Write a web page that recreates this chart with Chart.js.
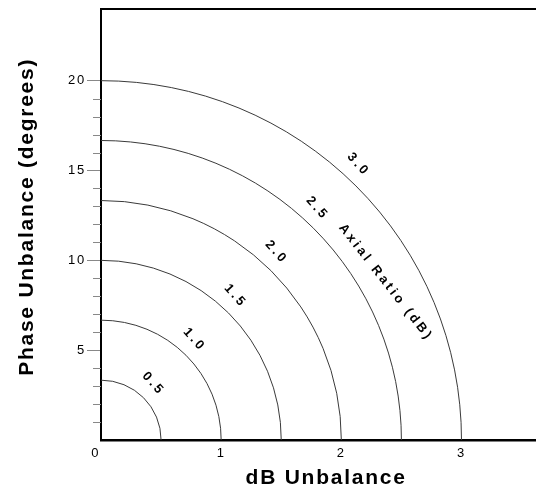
<!DOCTYPE html>
<html>
<head>
<meta charset="utf-8">
<script src="https://cdn.jsdelivr.net/npm/chart.js@4.4.0/dist/chart.umd.min.js"></script>
<style>
    html, body { margin: 0; padding: 0; background: #fff; }
    #wrap { width: 536px; height: 491px; }
</style>
</head>
<body>
<div id="wrap"><canvas id="arChart"></canvas></div>
<script>
// Axial ratio contours (dB) and where each one meets the two axes
const arLevels = [0.5, 1.0, 1.5, 2.0, 2.5, 3.0];
const arLabels = ['0.5', '1.0', '1.5', '2.0', '2.5', '3.0'];
const dbIntercepts = [0.5, 1, 1.5, 2, 2.5, 3];
const phaseIntercepts = [3.33, 6.67, 10, 13.33, 16.67, 20];

// Tick labels
const xTickValues = [0, 1, 2, 3];
const yMajorTicks = [5, 10, 15, 20];
const yMinorMax = 20;

const FONT = "'Liberation Sans', Arial, sans-serif";

// Where the contour labels sit (angle from the dB axis, degrees)
const labelStyle = { angle: 47, offset: 17, rotation: 48 };
const axialLabel = { text: 'Axial Ratio (dB)', inner: 4, outer: 5, frac: 0.42, angle: 29, rotation: 52 };

const contourPlugin = {
    id: 'contours',
    beforeDraw(chart) {
        chart.ctx.letterSpacing = '1.75px';
    },
    afterDatasetsDraw(chart) {
        const { ctx, chartArea } = chart;
        const x = chart.scales.x;
        const y = chart.scales.y;
        const cx = x.getPixelForValue(0);
        const cy = y.getPixelForValue(0);
        const rxOf = i => x.getPixelForValue(dbIntercepts[i]) - cx;
        const ryOf = i => cy - y.getPixelForValue(phaseIntercepts[i]);

        ctx.save();
        ctx.beginPath();
        ctx.rect(chartArea.left, chartArea.top, chartArea.width, chartArea.height);
        ctx.clip();

        // quarter ellipses
        ctx.strokeStyle = '#3a3a3a';
        ctx.lineWidth = 1;
        arLevels.forEach((lv, i) => {
            ctx.beginPath();
            ctx.ellipse(cx, cy, rxOf(i), ryOf(i), 0, -Math.PI / 2, 0);
            ctx.stroke();
        });

        // y minor ticks
        ctx.restore();
        ctx.save();
        ctx.strokeStyle = '#888';
        ctx.lineWidth = 1;
        y.ticks.forEach(t => {
            if (t.value === 0 || t.value > yMinorMax || yMajorTicks.includes(t.value)) return;
            const py = Math.round(y.getPixelForValue(t.value)) + 0.5;
            ctx.beginPath();
            ctx.moveTo(chartArea.left - 8, py);
            ctx.lineTo(chartArea.left, py);
            ctx.stroke();
        });

        // contour labels
        ctx.fillStyle = '#000';
        ctx.textAlign = 'center';
        ctx.textBaseline = 'middle';
        ctx.letterSpacing = '3px';
        ctx.font = 'bold 13px ' + FONT;
        const a = labelStyle.angle * Math.PI / 180;
        arLabels.forEach((txt, i) => {
            const px = cx + (rxOf(i) + labelStyle.offset) * Math.cos(a);
            const py = cy - (ryOf(i) + labelStyle.offset) * Math.sin(a);
            ctx.save();
            ctx.translate(px, py);
            ctx.rotate(labelStyle.rotation * Math.PI / 180);
            ctx.fillText(txt, 0, 0);
            ctx.restore();
        });

        const b = axialLabel.angle * Math.PI / 180;
        const rx = rxOf(axialLabel.inner) + axialLabel.frac * (rxOf(axialLabel.outer) - rxOf(axialLabel.inner));
        const ry = ryOf(axialLabel.inner) + axialLabel.frac * (ryOf(axialLabel.outer) - ryOf(axialLabel.inner));
        ctx.font = 'bold 13px ' + FONT;
        ctx.translate(cx + rx * Math.cos(b), cy - ry * Math.sin(b));
        ctx.rotate(axialLabel.rotation * Math.PI / 180);
        ctx.fillText(axialLabel.text, 0, 0);
        ctx.restore();
    }
};

new Chart(document.getElementById('arChart'), {
    type: 'scatter',
    data: { datasets: [] },
    options: {
        responsive: true,
        maintainAspectRatio: false,
        animation: false,
        layout: { padding: 0 },
        plugins: {
            legend: { display: false },
            tooltip: { enabled: false }
        },
        scales: {
            x: {
                type: 'linear',
                min: 0,
                max: 3.62,
                afterBuildTicks: s => { s.ticks = xTickValues.map(v => ({ value: v })); },
                afterFit: s => { s.height = 51; },
                grid: { display: false, drawTicks: false },
                border: { display: true, color: '#000', width: 2.5 },
                ticks: {
                    color: '#000',
                    padding: 6,
                    autoSkip: false,
                    font: { family: FONT, size: 13 },
                    maxRotation: 0,
                    callback: v => (v === 0 ? '0  ' : String(v))
                },
                title: {
                    display: true,
                    text: '  dB Unbalance',
                    color: '#000',
                    font: { family: FONT, size: 21, weight: 'bold' },
                    padding: { top: 2, bottom: 0 }
                }
            },
            x2: {
                type: 'linear',
                position: 'top',
                min: 0,
                max: 1,
                afterFit: s => { s.height = 7; },
                grid: { display: false },
                ticks: { display: false },
                border: { display: true, color: '#000', width: 2 }
            },
            y: {
                type: 'linear',
                min: 0,
                max: 24,
                afterFit: s => { s.width = 101; },
                grid: {
                    drawOnChartArea: false,
                    drawTicks: true,
                    tickLength: 14,
                    tickColor: c => (yMajorTicks.includes(c.tick.value) ? '#888' : 'rgba(0,0,0,0)')
                },
                border: { display: true, color: '#000', width: 2 },
                ticks: {
                    stepSize: 1,
                    autoSkip: false,
                    color: '#000',
                    padding: 1,
                    font: { family: FONT, size: 13 },
                    callback: v => (yMajorTicks.includes(v) ? String(v) : '')
                },
                title: {
                    display: true,
                    text: '  Phase Unbalance (degrees)',
                    color: '#000',
                    font: { family: FONT, size: 21, weight: 'bold' },
                    padding: { top: 15, bottom: 0 }
                }
            }
        }
    },
    plugins: [contourPlugin]
});
</script>
</body>
</html>
